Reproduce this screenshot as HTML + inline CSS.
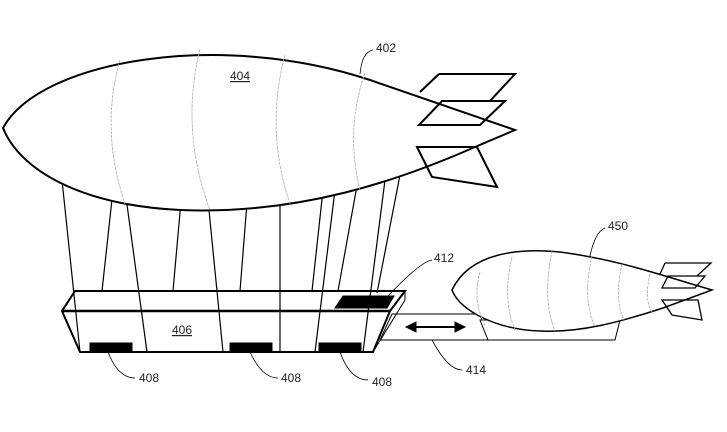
<!DOCTYPE html>
<html><head><style>body{margin:0;background:#fff}svg{display:block}text{font-family:"Liberation Sans",sans-serif;font-size:12px;fill:#222;stroke:none}</style></head>
<body><svg width="727" height="432" viewBox="0 0 727 432" xmlns="http://www.w3.org/2000/svg" fill="none" stroke="#000">
<g stroke-width="1.2">
<path d="M62 180 L80 352 M113 190 L102 291 M125 190 L147 352 M182 190 L173 291 M207 190 L223 352 M248 190 L240 291 M280 190 L280 352 M323 190 L312 291 M335 190 L315 352 M358 180 L338 291 M385 180 L363 352 M400 175 L377 293"/>
</g>
<path d="M3 128 C40 60 220 30 370 80 L515 130 L475 147 C400 180 300 215 180 210 C80 205 20 170 3 128 Z" stroke-width="2" fill="#fff"/>
<g stroke="#aaa" stroke-width="0.8" stroke-dasharray="3 1">
<path d="M120 60 Q100 130 125 204"/><path d="M200 49 Q180 130 210 210"/><path d="M285 55 Q265 130 290 204"/><path d="M365 73 Q345 130 360 190"/>
<path d="M480 270 Q470 300 485 327"/><path d="M510 258 Q500 300 515 331"/><path d="M550 250 Q540 300 555 330"/><path d="M590 254 Q580 300 595 325"/><path d="M620 263 Q612 300 622 318"/><path d="M650 274 Q644 300 652 312"/>
</g>
<g stroke-width="2">
<path d="M439 74 L515 74 L490 101 M439 74 L420 92"/>
<path d="M442 101 L505 101 L480 125 L419 125 Z"/>
<path d="M417 147 L477 147 L497 187 L432 177 Z"/>
</g>
<path d="M392 314 L480 314 L488 340 L380 340 Z" stroke-width="1" fill="#fff"/>
<path d="M480 320 L620 320 L615 340 L488 340 Z" stroke-width="1" fill="#fff"/>
<path d="M452 290 C470 252 520 248 560 252 C620 260 660 275 712 290 L663 308 C620 322 580 333 540 331 C500 330 460 312 452 290 Z" stroke-width="1.5" fill="#fff"/>
<g stroke="#aaa" stroke-width="0.8" stroke-dasharray="3 1">
<path d="M480 272 Q472 300 485 325"/><path d="M512 257 Q502 300 515 330"/><path d="M552 251 Q542 300 555 331"/><path d="M592 256 Q582 300 595 327"/><path d="M622 264 Q614 300 624 320"/><path d="M650 274 Q644 300 652 312"/>
</g>
<g stroke-width="1.3"><path d="M665 263 L711 263 L697 276 M665 263 L660 274"/><path d="M668 276 L705 276 L695 288 L662 288 Z"/><path d="M662 300 L698 300 L702 320 L672 315 Z"/></g>
<path d="M75 291 L405 291 L390 311 L373 352 L80 352 L62 311 Z" stroke-width="2" fill="none"/>
<path d="M62 311 L390 311" stroke-width="2.5"/>
<path d="M405 291 L405 300 L373 352" stroke-width="1"/>
<path d="M343 296 L394 296 L387 308 L335 308 Z" fill="#000"/>
<rect x="90" y="343" width="42" height="9" fill="#000"/><rect x="230" y="343" width="42" height="9" fill="#000"/><rect x="319" y="343" width="42" height="9" fill="#000"/>
<path d="M414 327 L457 327" stroke-width="2"/><path d="M406 327 L416 322 L416 332 Z M465 327 L455 322 L455 332 Z" fill="#000"/>
<g stroke-width="0.8">
<path d="M373 50 Q362 52 360 74"/><path d="M432 260 Q420 262 387 297"/><path d="M605 228 Q595 232 590 256"/>
<path d="M108 352 Q118 378 135 378"/><path d="M250 352 Q262 378 278 378"/><path d="M340 352 Q350 380 368 380"/><path d="M432 340 Q448 370 462 370"/>
</g>
<text x="376" y="52">402</text><text x="230" y="80" text-decoration="underline">404</text><text x="172" y="334" text-decoration="underline">406</text>
<text x="139" y="382">408</text><text x="281" y="382">408</text><text x="372" y="386">408</text>
<text x="434" y="262">412</text><text x="608" y="230">450</text><text x="466" y="374">414</text>
</svg></body></html>
